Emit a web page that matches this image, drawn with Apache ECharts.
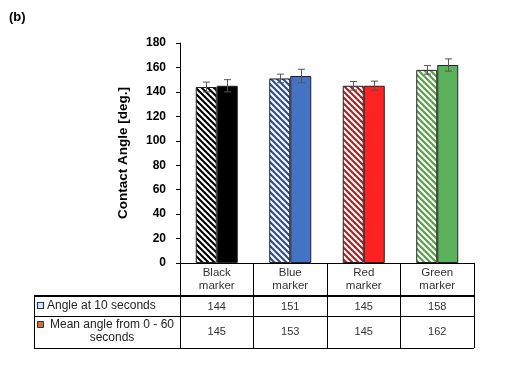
<!DOCTYPE html>
<html><head><meta charset="utf-8">
<script src="https://cdn.jsdelivr.net/npm/echarts@6/dist/echarts.min.js"></script>
<style>html,body{margin:0;padding:0;background:#fff}#c{width:506px;height:365px}</style>
</head><body><div id="c"></div>
<script>
const categories = ['Black\nmarker', 'Blue\nmarker', 'Red\nmarker', 'Green\nmarker'];
const angle10 = [144, 151, 145, 158];
const angle10Err = [4, 3.5, 3.5, 3.5];
const meanAngle = [145, 153, 145, 162];
const meanAngleErr = [5, 5.5, 3.8, 5];
const yTicks = [0, 20, 40, 60, 80, 100, 120, 140, 160, 180];
const rowNames = ['Angle at 10 seconds', 'Mean angle from 0 - 60\nseconds'];

const solidColors = ['#000000', '#4472C4', '#FF2222', '#5BB25A'];
const stripeColors = ['#000000', '#2F4F86', '#A02525', '#5E9A50'];
const stripeBg = ['#ffffff', '#f6f8fc', '#fff7f7', '#f6fcf4'];

function hatch(col, bg) {
  const s = 6, cv = document.createElement('canvas');
  cv.width = s; cv.height = s;
  const ctx = cv.getContext('2d');
  ctx.fillStyle = bg; ctx.fillRect(0, 0, s, s);
  ctx.strokeStyle = col; ctx.lineWidth = 2.1;
  for (let k = -2; k <= 2; k++) {
    ctx.beginPath();
    ctx.moveTo(k * s - s, -s);
    ctx.lineTo(k * s + 2 * s, 2 * s);
    ctx.stroke();
  }
  return { image: cv, repeat: 'repeat' };
}

const BW = 21;
const chart = echarts.init(document.getElementById('c'));
const font = 'Arial, "Liberation Sans", sans-serif';

function errSeries(vals, errs, sign) {
  return {
    type: 'custom', xAxisIndex: 0, yAxisIndex: 0, z: 5,
    data: vals.map((v, i) => [i, v, errs[i]]),
    renderItem: function (params, api) {
      const i = api.value(0), v = api.value(1), e = api.value(2);
      const top = api.coord([i, v + e]);
      const bot = api.coord([i, v - e]);
      const x = Math.round(top[0] + sign * BW / 2) + 0.5;
      const cap = 3.5;
      const st = { stroke: '#555', lineWidth: 1 };
      return { type: 'group', children: [
        { type: 'line', shape: { x1: x, y1: top[1], x2: x, y2: bot[1] }, style: st },
        { type: 'line', shape: { x1: x - cap, y1: top[1], x2: x + cap, y2: top[1] }, style: st },
        { type: 'line', shape: { x1: x - cap, y1: bot[1], x2: x + cap, y2: bot[1] }, style: st }
      ]};
    }
  };
}

const rowAxis = (offset, arr, margin) => ({
  type: 'category', data: categories, position: 'bottom', offset: offset, gridIndex: 0,
  axisLine: { show: false }, axisTick: { show: false },
  axisLabel: { margin: margin, fontFamily: font, fontSize: 11, color: '#333', formatter: (v, i) => String(arr[i]) }
});

const option = {
  animation: false,
  backgroundColor: '#fff',
  grid: { left: 180, right: 32, top: 43, bottom: 102 },
  xAxis: [
    {
      type: 'category', data: categories, position: 'bottom',
      axisLine: { lineStyle: { color: '#000', width: 1 } },
      axisTick: { show: true, length: 85, lineStyle: { color: '#000', width: 1 } },
      axisLabel: { margin: 3, fontFamily: font, fontSize: 11.5, color: '#333', lineHeight: 13.5 }
    },
    rowAxis(33, angle10, 5),
    rowAxis(53, meanAngle, 10)
  ],
  yAxis: {
    type: 'value', min: 0, max: 180, interval: 20,
    name: 'Contact Angle [deg.]', nameLocation: 'middle', nameGap: 50, nameRotate: 90,
    nameTextStyle: { fontFamily: font, fontSize: 13.5, fontWeight: 'bold', color: '#000' },
    axisLine: { show: true, lineStyle: { color: '#000', width: 1 } },
    axisTick: { show: true, length: 4, lineStyle: { color: '#000' } },
    splitLine: { show: false },
    axisLabel: { margin: 14, fontFamily: font, fontSize: 12, fontWeight: 'bold', color: '#000',
      formatter: v => yTicks.includes(v) ? String(v) : '' }
  },
  series: [
    {
      type: 'bar', name: rowNames[0], barWidth: BW, barGap: '0%',
      data: angle10.map((v, i) => ({ value: v, itemStyle: { color: hatch(stripeColors[i], stripeBg[i]), borderColor: '#222', borderWidth: 1 } }))
    },
    {
      type: 'bar', name: rowNames[1], barWidth: BW, barGap: '0%',
      data: meanAngle.map((v, i) => ({ value: v, itemStyle: { color: solidColors[i], borderColor: '#222', borderWidth: 1 } }))
    },
    errSeries(angle10, angle10Err, -1),
    errSeries(meanAngle, meanAngleErr, 1)
  ],
  graphic: [
    { type: 'text', left: 9, top: 11, style: { text: '(b)', font: 'bold 13px ' + font, fill: '#000' } },
    { type: 'line', shape: { x1: 34, y1: 296, x2: 474, y2: 296 }, style: { stroke: '#000', lineWidth: 2.2 } },
    { type: 'line', shape: { x1: 34, y1: 316.5, x2: 474, y2: 316.5 }, style: { stroke: '#000', lineWidth: 1 } },
    { type: 'line', shape: { x1: 34, y1: 348.5, x2: 474, y2: 348.5 }, style: { stroke: '#000', lineWidth: 1 } },
    { type: 'line', shape: { x1: 34.5, y1: 295, x2: 34.5, y2: 349 }, style: { stroke: '#000', lineWidth: 1 } },
    { type: 'rect', shape: { x: 37.5, y: 302.5, width: 6, height: 6 }, style: { fill: '#dfe6ef', stroke: '#1f3864', lineWidth: 1.2 } },
    { type: 'text', x: 47, y: 306, style: { text: rowNames[0], font: '12px ' + font, fill: '#222', textVerticalAlign: 'middle' } },
    { type: 'rect', shape: { x: 37.5, y: 321.5, width: 6, height: 6 }, style: { fill: '#d4703a', stroke: '#333', lineWidth: 1 } },
    { type: 'text', x: 112, y: 331, style: { text: rowNames[1], font: '12px ' + font, fill: '#222', textAlign: 'center', textVerticalAlign: 'middle', lineHeight: 12.5 } }
  ]
};
chart.setOption(option);
</script></body></html>
